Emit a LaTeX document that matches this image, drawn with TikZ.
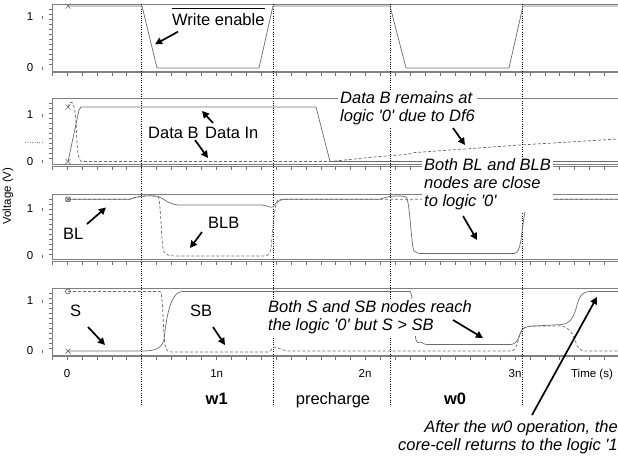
\documentclass[tikz,border=0pt]{standalone}
\usepackage{fontspec}
\setmainfont{Liberation Sans}
\usetikzlibrary{arrows.meta}
\newcommand\drawpanel[5]{%
  \draw[frame] (52,#2) -- (618,#2);
  \draw[frame] (52,#2) -- (52,#3);
  \draw[frame] (52,#3) -- (618,#3);
  \draw[frame] (52,#3+1.8) -- (618,#3+1.8);
  \foreach \k in {-1,...,37} \draw[tickln] ({67+14.93*\k},#3+1.8) -- ++(0,3.5);
  \foreach \k in {1,...,12} \draw[tickln] (48.5,{#2+5*\k}) -- (52,{#2+5*\k});
  \draw[tickln] (42,#4-1.5) -- (42,#4+1.5);
  \draw[tickln] (42,#5-1.5) -- (42,#5+1.5);
  \node[ticklab] (#1one) at (30,#4) {1};
  \node[ticklab] (#1zero) at (30,#5) {0};
}
\newcommand\xmk[2]{\draw[sig] (#1-2.5,#2-2.5) -- (#1+2.5,#2+2.5) (#1-2.5,#2+2.5) -- (#1+2.5,#2-2.5);}
\newcommand\q{\textquotesingle}
\begin{document}
\begin{tikzpicture}[x=1pt,y=-1pt,
  sig/.style={draw=black!58, line width=0.7pt},
  sigd/.style={sig, dash pattern=on 3pt off 2pt},
  frame/.style={draw=black!50, line width=0.7pt},
  tickln/.style={draw=black!55, line width=0.5pt},
  vdot/.style={draw=black, line width=0.7pt, dash pattern=on 0.8pt off 1.5pt},
  arr/.style={draw=black, line width=1.7pt, -{Triangle[length=7pt,width=7pt]}},
  note/.style={font=\fontsize{16.5}{18}\selectfont\itshape, align=left, inner xsep=2pt, inner ysep=1.5pt, fill=white},
  notec/.style={font=\fontsize{16.5}{18}\selectfont\itshape, align=right, inner xsep=0pt, inner ysep=1.5pt, fill=white},
  lab/.style={font=\fontsize{16.5}{18}\selectfont, inner sep=0pt},
  blab/.style={font=\fontsize{16.5}{18}\selectfont\bfseries, inner sep=0pt},
  ticklab/.style={font=\fontsize{11.5}{13}\selectfont, inner sep=0pt},
]
\useasboundingbox (0,0) rectangle (618,458);
% panels
\drawpanel{pa}{4}{71}{17}{68}
\drawpanel{pb}{98}{164.5}{115}{161.5}
\drawpanel{pc}{194}{259.5}{209}{256}
\drawpanel{pd}{288}{355}{301}{351}
\draw[black!45, dotted] (25,141.7) -- (42,141.7);
% phase separators
\foreach \xx in {141.7,273.3,390,522.7} \draw[vdot] (\xx,4) -- (\xx,406);
% panel 1: write enable
\draw[sig] (68,6) -- (142,6) -- (157,68) -- (259,68) -- (273,6) -- (390,6) -- (406,68) -- (509,68) -- (523,6) -- (618,6);
\xmk{68}{6}
% panel 2: Data In (solid), Data B (dashed)
\draw[sig] (68,161.5) -- (79,110) -- (81,107) -- (316,107) -- (330,161.5) -- (618,161.5);
\draw[sigd] (68,107) .. controls (71,98) and (74,100) .. (76,120) .. controls (77,150) and (78,161.5) .. (82,161.5) -- (330,161.5) -- (377,156.7) -- (407,154.5) -- (413,152.7) -- (520,145) -- (618,139);
\xmk{68}{107}
\xmk{68}{161.5}
% panel 3: BL (solid), BLB (dashed)
\draw[sigd] (68,199.3) -- (130,199.3) .. controls (137,196) and (150,195) .. (158,196.5) .. controls (161,200) and (161,245) .. (164,252) .. controls (166,255) and (170,256) .. (176,256) -- (264,256) .. controls (268,256) and (270,254) .. (271,248) .. controls (273,230) and (274,205) .. (278,200) .. controls (280,199.3) .. (285,199.3) -- (618,199.3);
\draw[sig] (68,199.3) -- (130,199.3) .. controls (137,196) and (150,195) .. (158,196.5) .. controls (163,198) and (168,204) .. (178,205) -- (262,205) .. controls (267,205.5) and (270,208) .. (273,207) .. controls (276,203) and (279,199.3) .. (285,199.3) -- (380,199.3) .. controls (387,196) and (400,195) .. (406,197) .. controls (410,200) and (411,245) .. (414,251) .. controls (416,253.5) and (419,253.5) .. (424,253.5) -- (514,253.5) .. controls (518,253) and (519,250) .. (521,240) .. controls (523,225) and (525,205) .. (529,199.3) -- (618,199.3);
\draw[sig] (68,199.3) circle[radius=2.5];
\xmk{68}{199.3}
% panel 4: S (solid), SB (dashed)
\draw[sigd] (68,291.5) -- (160,291.5) .. controls (163,292) and (163,330) .. (165,345) .. controls (166,350) and (168,352) .. (172,352) -- (268,352) .. controls (271,352) and (272,347) .. (274,347) .. controls (278,347) and (282,351) .. (290,351) -- (512,351) .. controls (516,351) and (518,340) .. (520,334) .. controls (522,328) and (525,326) .. (535,326) -- (560,326) .. controls (568,326) and (572,332) .. (575,340) .. controls (578,349) and (580,351) .. (586,351) -- (618,351);
\draw[sig] (68,351) -- (140,351) .. controls (155,351) and (161,349) .. (164,340) .. controls (166,320) and (170,292) .. (182,291.5) -- (410,291.5) .. controls (413,292) and (414,330) .. (416,340) .. controls (417,344) and (419,342) .. (421,342) .. controls (423,343) and (424,344.5) .. (428,344.5) -- (511,344.5) .. controls (516,344) and (518,340) .. (520,334) .. controls (522,328) and (525,326) .. (535,326) -- (562,324.5) .. controls (570,323) and (574,318) .. (577,305) .. controls (580,294) and (584,291.5) .. (590,291.5) -- (618,291.5);
\draw[sig] (68,291.5) circle[radius=2.5];
\xmk{68}{351}
% annotations with white background
\node[note, anchor=north west] (dbnote) at (338,90) {Data B remains at\\logic \q0\q{} due to Df6};
\node[note, anchor=north west] (blnote) at (422,157) {Both BL and BLB\\nodes are close\\to logic \q0\q};
\node[note, anchor=north west] (snote) at (266,299) {Both S and SB nodes reach\\the logic \q0\q{} but S > SB};
\node[notec, anchor=north east] (afnote) at (618,419) {After the w0 operation, the\\core-cell returns to the logic \q1};
% labels
\node[lab, anchor=base west] (we) at (172,25.7) {Write enable};
\draw[black, line width=0.8pt] ([yshift=5.5pt]we.north west) -- ([yshift=5.5pt]we.north east);
\node[lab, anchor=base west] (datab) at (148,138) {Data B};
\node[lab, anchor=base west] (datain) at (205,138) {Data In};
\node[lab, anchor=base west] (bl) at (63,239) {BL};
\node[lab, anchor=base west] (blb) at (208,228) {BLB};
\node[lab, anchor=base west] (s) at (70,316) {S};
\node[lab, anchor=base west] (sb) at (190,316) {SB};
\node[blab, anchor=base] (w1) at (216.7,404) {w1};
\node[lab, anchor=base] (pre) at (333,404) {precharge};
\node[blab, anchor=base] (w0) at (455,404) {w0};
\node[ticklab, anchor=base] (t0) at (67,377) {0};
\node[ticklab, anchor=base] (t1) at (216.7,377) {1n};
\node[ticklab, anchor=base] (t2) at (365,377) {2n};
\node[ticklab, anchor=base] (t3) at (515,377) {3n};
\node[ticklab, anchor=base] (tl) at (592,377) {Time (s)};
\node[ticklab, rotate=90] (vl) at (8,196) {Voltage (V)};
% arrows
\coordinate (a1s) at (178,31.7); \coordinate (a1e) at (155,44.3);
\coordinate (a2s) at (213,123); \coordinate (a2e) at (202,111);
\coordinate (a3s) at (195,140); \coordinate (a3e) at (208,158);
\coordinate (a4s) at (453,128); \coordinate (a4e) at (465,145);
\coordinate (a5s) at (87,224); \coordinate (a5e) at (106,207.5);
\coordinate (a6s) at (202,232); \coordinate (a6e) at (190,248);
\coordinate (a7s) at (463,216); \coordinate (a7e) at (477,240);
\coordinate (a8s) at (88,327); \coordinate (a8e) at (105,345);
\coordinate (a9s) at (213,327); \coordinate (a9e) at (225,345);
\coordinate (a10s) at (453,320); \coordinate (a10e) at (483,338);
\coordinate (a11s) at (532,415); \coordinate (a11e) at (597,297);
\foreach \i in {1,...,11} \draw[arr] (a\i s) -- (a\i e);
\end{tikzpicture}
\end{document}
